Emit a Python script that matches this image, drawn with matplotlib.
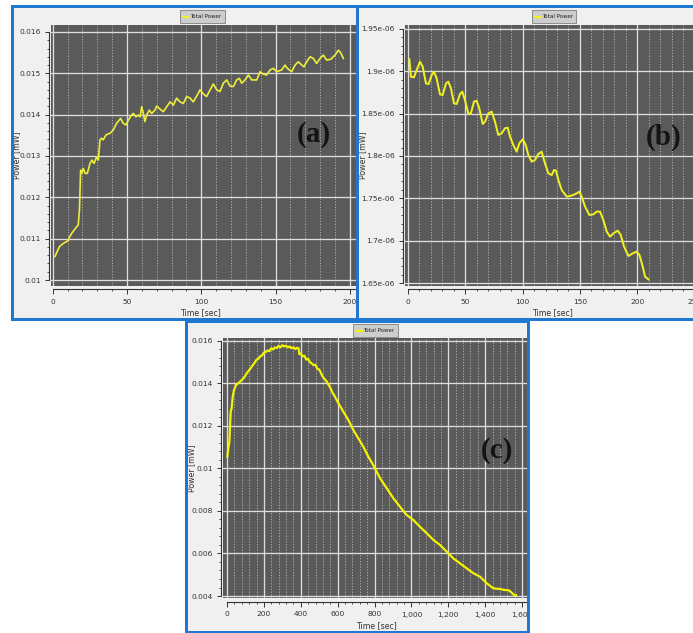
import numpy as np
import matplotlib
matplotlib.use("Agg")
import matplotlib.pyplot as plt
from matplotlib.patches import Rectangle
from matplotlib.lines import Line2D
from matplotlib.ticker import FixedLocator, FuncFormatter
from matplotlib import font_manager

# ---------------- data ----------------
time_a = [1.5, 4.5, 7.2, 10.5, 11.2, 12.8, 15.7, 17.2, 18.0, 18.8, 19.5, 20.6, 21.8, 23.3,
          25.1, 26.4, 27.8, 29.6, 30.7, 31.8, 33.0, 34.0, 35.9, 38.6, 40.8, 43.0, 45.7, 47.5,
          49.3, 50.9, 53.1, 54.3, 56.0, 57.6, 58.8, 59.9, 61.0, 62.1, 63.2, 65.0, 66.6, 68.8,
          70.0, 71.8, 74.4, 76.7, 79.0, 81.2, 83.4, 85.7, 87.9, 90.2, 92.4, 94.6, 98.0, 99.1,
          101.4, 103.6, 105.9, 108.1, 110.4, 112.6, 114.8, 117.1, 119.3, 121.6, 123.8, 125.6,
          127.2, 129.4, 131.7, 133.9, 137.3, 139.5, 141.7, 144.0, 146.2, 148.5, 150.7, 154.1,
          156.3, 157.9, 160.8, 163.1, 165.3, 167.6, 169.1, 170.9, 173.2, 175.4, 177.6, 180.3,
          182.1, 184.4, 187.1, 190.0, 192.2, 193.8, 195.6]
power_a = [0.010565, 0.010806, 0.010887, 0.010952, 0.01103, 0.01113, 0.01127, 0.01133, 0.0117,
           0.01266, 0.01258, 0.0127, 0.01258, 0.01258, 0.01282, 0.0129, 0.01282, 0.01298, 0.0129,
           0.01339, 0.01343, 0.01339, 0.01351, 0.01355, 0.01363, 0.01379, 0.01391, 0.01379,
           0.01375, 0.01387, 0.01399, 0.01403, 0.01395, 0.01399, 0.01395, 0.01419, 0.01403,
           0.01383, 0.01399, 0.01411, 0.01403, 0.01411, 0.01421, 0.01415, 0.01407, 0.01419,
           0.01431, 0.01423, 0.0144, 0.01431, 0.01427, 0.01444, 0.0144, 0.01431, 0.01452, 0.0146,
           0.0145, 0.01444, 0.0146, 0.01474, 0.0146, 0.01456, 0.01476, 0.01484, 0.01469, 0.01468,
           0.01484, 0.01488, 0.01476, 0.01484, 0.01496, 0.01484, 0.01484, 0.01504, 0.01498,
           0.01496, 0.01508, 0.01512, 0.01504, 0.01508, 0.0152, 0.01512, 0.01504, 0.0152, 0.01528,
           0.0152, 0.01516, 0.01528, 0.0154, 0.01536, 0.01524, 0.01538, 0.01544, 0.01532, 0.01534,
           0.01544, 0.01556, 0.0155, 0.01536]

time_b = [1.2, 2.6, 5.2, 7.6, 10.5, 12.8, 15.7, 18.0, 20.7, 22.7, 25.0, 27.9, 30.2, 33.2, 35.2,
          37.5, 40.1, 42.5, 45.4, 47.4, 49.7, 52.6, 54.7, 57.6, 59.9, 62.2, 65.2, 67.2, 70.1,
          73.0, 75.9, 78.8, 81.7, 84.6, 87.0, 89.0, 91.9, 94.8, 97.1, 100.1, 102.7, 105.0, 107.9,
          110.8, 113.7, 116.6, 119.5, 122.5, 125.4, 127.4, 129.1, 131.2, 134.1, 138.5, 141.4,
          144.3, 147.2, 149.5, 151.5, 154.5, 158.2, 161.7, 164.6, 167.5, 170.4, 173.4, 176.3,
          179.2, 183.0, 185.6, 188.5, 192.3, 196.0, 199.5, 201.9, 204.8, 206.8, 209.7]
# power in units of 1e-6 mW
power_b_micro = [1.9142, 1.8937, 1.8929, 1.9016, 1.9114, 1.9055, 1.8858, 1.8850, 1.8957, 1.8996,
                 1.8917, 1.8728, 1.8720, 1.8858, 1.8878, 1.8799, 1.8622, 1.8614, 1.8732, 1.8760,
                 1.8661, 1.8504, 1.8496, 1.8642, 1.8653, 1.8563, 1.8378, 1.8406, 1.8504, 1.8524,
                 1.8406, 1.8248, 1.8268, 1.8327, 1.8335, 1.8228, 1.8130, 1.8051, 1.8150, 1.8197,
                 1.8130, 1.8012, 1.7933, 1.7953, 1.8024, 1.8051, 1.7913, 1.7795, 1.7775, 1.7835,
                 1.7827, 1.7716, 1.7598, 1.7520, 1.7528, 1.7540, 1.7559, 1.7579, 1.7520, 1.7402,
                 1.7303, 1.7311, 1.7343, 1.7343, 1.7244, 1.7106, 1.7047, 1.7087, 1.7118, 1.7067,
                 1.6929, 1.6819, 1.6850, 1.6870, 1.6831, 1.6693, 1.6575, 1.6543]

time_c = [1.8, 7, 13, 16, 20, 25, 31, 38, 49, 61, 80, 95, 107, 120, 134, 150, 160, 170, 180, 190,
          200, 210, 220, 230, 240, 250, 260, 270, 280, 290, 300, 310, 320, 330, 340, 350, 360,
          370, 380, 388, 392, 400, 410, 420, 430, 440, 450, 460, 470, 480, 490, 500, 510, 520,
          530, 540, 550, 560, 570, 580, 590, 604, 631, 658, 685, 712, 739, 766, 793, 830, 866,
          902, 938, 974, 1010, 1046, 1083, 1119, 1155, 1191, 1227, 1263, 1300, 1336, 1372, 1408,
          1444, 1480, 1507, 1525, 1538, 1552, 1561, 1567]
power_c = [0.010557, 0.01095, 0.01126, 0.01189, 0.01267, 0.01283, 0.01338, 0.01369, 0.01393,
           0.01401, 0.01416, 0.01430, 0.01448, 0.01462, 0.01479, 0.01498, 0.01512, 0.01516,
           0.01528, 0.01532, 0.01545, 0.01548, 0.01556, 0.01552, 0.01566, 0.01560, 0.01570,
           0.01566, 0.01578, 0.01570, 0.01580, 0.01574, 0.01578, 0.01570, 0.01574, 0.01566,
           0.01570, 0.01562, 0.01568, 0.01565, 0.01538, 0.01540, 0.01528, 0.01530, 0.01512,
           0.01516, 0.01500, 0.01494, 0.01486, 0.01488, 0.01468, 0.01466, 0.01448, 0.01430,
           0.01420, 0.01410, 0.01394, 0.01380, 0.01360, 0.01346, 0.01330, 0.01307, 0.01267,
           0.01228, 0.01181, 0.01142, 0.01103, 0.01056, 0.01016, 0.00954, 0.00907, 0.0086,
           0.0082, 0.00781, 0.00758, 0.00726, 0.00695, 0.00664, 0.0064, 0.00609, 0.00577,
           0.00554, 0.0053, 0.00507, 0.00491, 0.0046, 0.00436, 0.00433, 0.00428, 0.00428,
           0.0042, 0.00408, 0.00404, 0.00404]

legend_label = "Total Power"
x_label = "Time [sec]"
y_label = "Power [mW]"

# ---------------- style ----------------
W, H, DPI = 693, 633, 100
PX = 72.0 / DPI  # points per pixel

def pick_font(candidates):
    for name in candidates:
        try:
            font_manager.findfont(name, fallback_to_default=False)
            return name
        except Exception:
            pass
    return "DejaVu Sans"

UI_FONT = pick_font(["Liberation Sans Narrow", "DejaVu Sans"])
NARROW = UI_FONT != "DejaVu Sans"
TICK_FS = 6.8 if NARROW else 5.4
LABEL_FS = 7.0 if NARROW else 5.7
LEG_FS = 5.2 if NARROW else 4.0
plt.rcParams["font.family"] = [UI_FONT, "DejaVu Sans"]

BLUE = "#1f77cf"
PANEL_BG = "#f0f0f0"
PLOT_BG = "#5a5a5a"
TEXT_C = "#333333"

fig = plt.figure(figsize=(W / DPI, H / DPI), dpi=DPI, facecolor="white")


def fx(x):
    return x / W


def fy(y):
    return 1 - y / H


def frame(x0, y0, x1, y1):
    fig.add_artist(Rectangle((fx(x0), fy(y1)), (x1 - x0) / W, (y1 - y0) / H,
                             transform=fig.transFigure, facecolor=PANEL_BG,
                             edgecolor="none", zorder=-5))
    fig.add_artist(Rectangle((fx(x0), fy(y1)), (x1 - x0) / W, (y1 - y0) / H,
                             transform=fig.transFigure, facecolor="none",
                             edgecolor=BLUE, lw=3 * PX, zorder=30))


def legend_box(x0, y0, x1, y1, color):
    fig.add_artist(Rectangle((fx(x0), fy(y1)), (x1 - x0) / W, (y1 - y0) / H,
                             transform=fig.transFigure, facecolor="#cdcdcd",
                             edgecolor="#8c8c8c", lw=0.7, zorder=10))
    ym = (y0 + y1) / 2
    fig.add_artist(Line2D([fx(x0 + 3), fx(x0 + 9)], [fy(ym), fy(ym)],
                          transform=fig.transFigure, color=color, lw=1.6, zorder=11))
    fig.text(fx(x0 + 10), fy(ym), legend_label, fontsize=LEG_FS, color="#222222",
             ha="left", va="center", zorder=11)


def panel(box, xlim, ylim, xmaj, xmin, ymaj, ymin, t, p, color, lw, xfmt, yfmt):
    l, tp, r, b = box
    ax = fig.add_axes([fx(l), fy(b), (r - l) / W, (b - tp) / H])
    ax.set_facecolor(PLOT_BG)
    ax.set_xlim(*xlim)
    ax.set_ylim(*ylim)
    ax.xaxis.set_major_locator(FixedLocator(xmaj))
    ax.xaxis.set_minor_locator(FixedLocator(xmin))
    ax.yaxis.set_major_locator(FixedLocator(ymaj))
    ax.yaxis.set_minor_locator(FixedLocator(ymin))
    ax.xaxis.set_major_formatter(FuncFormatter(xfmt))
    ax.yaxis.set_major_formatter(FuncFormatter(yfmt))
    ax.set_axisbelow(True)
    ax.grid(which="major", axis="both", color="#dedede", lw=1.3 * PX)
    ax.grid(which="minor", axis="x", color="#ababab", lw=1.0 * PX, linestyle=(0, (1.2, 1.6)))
    for s in ("top", "right"):
        ax.spines[s].set_visible(False)
    ax.spines["left"].set_position(("outward", 2 * PX))
    ax.spines["bottom"].set_position(("outward", 3.5 * PX))
    ax.spines["left"].set_bounds(ymaj[0], ymaj[-1])
    ax.spines["bottom"].set_bounds(xmaj[0], xlim[1])
    for s in ("left", "bottom"):
        ax.spines[s].set_color("#333333")
        ax.spines[s].set_linewidth(0.8)
    ax.tick_params(which="major", direction="out", length=4.5 * PX, width=0.7,
                   color="#333333", labelsize=TICK_FS, labelcolor=TEXT_C)
    ax.tick_params(axis="x", which="major", pad=5.5 * PX)
    ax.tick_params(axis="y", which="major", pad=3.5 * PX)
    ax.tick_params(which="minor", direction="out", length=2.5 * PX, width=0.6, color="#333333")
    ax.plot(t, p, color=color, lw=lw, zorder=3, solid_joinstyle="round")
    return ax


def fmt_g(v, pos):
    return "%g" % float("%.6g" % v)


def fmt_int(v, pos):
    return "%d" % round(v)


def fmt_comma(v, pos):
    return "{:,.0f}".format(v)


# panel frames
frame(11.5, 5.5, 356.5, 318.5)
frame(356.5, 5.5, 740, 318.5)
frame(186, 320.5, 528, 631.5)

# (a)
panel((51, 25, 356, 286), (-1.14, 204.1), (0.009855, 0.016169),
      [0, 50, 100, 150, 200], np.arange(0, 210, 10),
      list(np.round(np.arange(0.010, 0.0161, 0.001), 4)),
      list(np.round(np.arange(0.010, 0.01601, 0.0002), 5)),
      time_a, power_a, "#ecec3c", 1.7 * PX, fmt_int, fmt_g)

# (b)
power_b = [v * 1e-6 for v in power_b_micro]
panel((405, 25, 712, 286), (-2.6, 265.2), (1.64646e-6, 1.95472e-6),
      [0, 50, 100, 150, 200, 250], np.arange(0, 270, 10),
      list(np.round(np.arange(1.65, 1.951, 0.05), 3) * 1e-6),
      list(np.round(np.arange(1.65, 1.951, 0.01), 3) * 1e-6),
      time_b, power_b, "#f0f020", 2.0 * PX, fmt_int, fmt_g)

# (c)
panel((223, 338, 528, 598), (-21.7, 1632), (0.003906, 0.01614),
      list(range(0, 1601, 200)), list(range(0, 1640, 40)),
      list(np.round(np.arange(0.004, 0.0161, 0.002), 4)),
      list(np.round(np.arange(0.004, 0.01601, 0.0004), 5)),
      time_c, power_c, "#f5f500", 2.2 * PX, fmt_comma, fmt_g)

# blank page area to the right of panel (c)
fig.add_artist(Rectangle((fx(529.5), 0), (W - 529.5) / W, (H - 320) / H,
                         transform=fig.transFigure, facecolor="white",
                         edgecolor="none", zorder=25))

# axis titles
for (x, y) in [(200, 313), (552, 313), (376, 626)]:
    fig.text(fx(x), fy(y), x_label, fontsize=LABEL_FS, color=TEXT_C,
             ha="center", va="center", zorder=12)
for (x, y) in [(17, 155), (363, 155), (192, 468)]:
    fig.text(fx(x), fy(y), y_label, fontsize=LABEL_FS, color=TEXT_C, rotation=90,
             ha="center", va="center", zorder=12)

# legends
legend_box(180, 10, 225, 23, "#ecec3c")
legend_box(532, 10, 576, 23, "#f0f020")
legend_box(353, 324, 398, 337, "#f5f500")

# panel tags
for (x, y, s) in [(314, 135, "(a)"), (664, 137, "(b)"), (497, 451, "(c)")]:
    fig.text(fx(x), fy(y), s, fontsize=21, fontweight="bold", color="#141414",
             family=["Liberation Serif", "DejaVu Serif"], ha="center", va="center", zorder=12)

fig.savefig("out.png", dpi=DPI, facecolor="white")
